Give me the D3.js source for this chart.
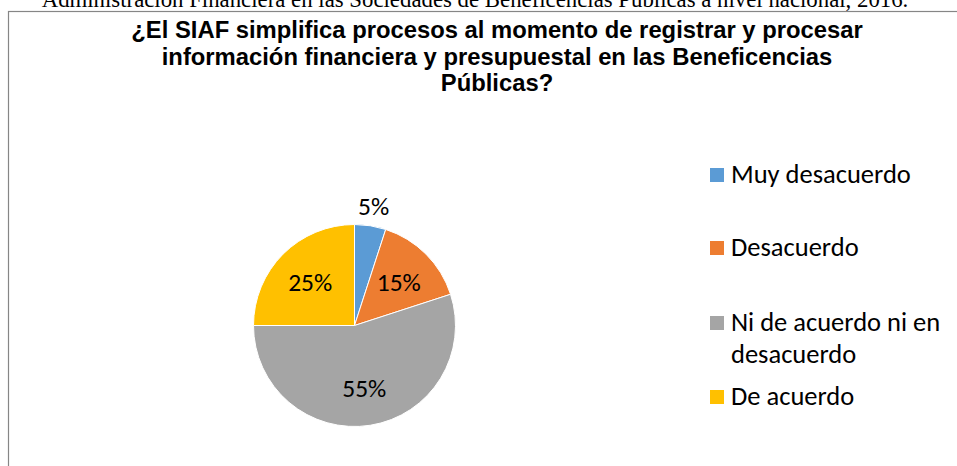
<!DOCTYPE html>
<html>
<head>
<meta charset="utf-8">
<script src="https://cdn.jsdelivr.net/npm/d3@7"></script>
<style>
  body { margin: 0; background: #fff; }
  svg { display: block; }
</style>
</head>
<body>
<svg id="chart" width="957" height="466"></svg>
<script>
'use strict';
// data
const categories = ["Muy desacuerdo", "Desacuerdo", "Ni de acuerdo ni en desacuerdo", "De acuerdo"];
const legendLines = [["Muy desacuerdo"], ["Desacuerdo"], ["Ni de acuerdo ni en", "desacuerdo"], ["De acuerdo"]];
const percents = [5, 15, 55, 25];
const colors = ["#5B9BD5", "#ED7D31", "#A5A5A5", "#FFC000"];
const titleLines = [
  "¿El SIAF simplifica procesos al momento de registrar y procesar",
  "información financiera y presupuestal en las Beneficencias",
  "Públicas?"
];
const captionText = "Administración Financiera en las Sociedades de Beneficencias Públicas a nivel nacional, 2016.";

const svg = d3.select("#chart");

// caption above the chart box, cut by the top of the picture
svg.append("text")
  .attr("x", 475)
  .attr("y", 7)
  .attr("text-anchor", "middle")
  .style("font-family", "'Liberation Serif', 'Times New Roman', serif")
  .style("font-size", "22.8px")
  .attr("fill", "#000")
  .text(captionText);

// chart box (only left and top edges show)
svg.append("rect")
  .attr("x", 8.5)
  .attr("y", 11.5)
  .attr("width", 1000)
  .attr("height", 500)
  .attr("fill", "none")
  .attr("stroke", "#868686")
  .attr("stroke-width", 1.2);

let title = svg.append("text")
  .attr("text-anchor", "middle")
  .style("font-family", "'Liberation Sans', Arial, sans-serif")
  .style("font-size", "23.8px")
  .style("font-weight", "bold")
  .attr("fill", "#000");
titleLines.forEach(function (line, i) {
  title.append("tspan")
    .attr("x", 497)
    .attr("y", 38 + i * 26.5)
    .text(line);
});

// pie
const cx = 354.5, cy = 325.5, radius = 101;
const pie = d3.pie().sort(null).value(d => d);
const arcs = pie(percents);
const arc = d3.arc().innerRadius(0).outerRadius(radius);
const labelArc = d3.arc().innerRadius(radius * 0.62).outerRadius(radius * 0.62);
const outerLabelArc = d3.arc().innerRadius(radius + 21).outerRadius(radius + 21);

let g = svg.append("g").attr("transform", "translate(" + cx + "," + cy + ")");
g.selectAll("path.slice")
  .data(arcs)
  .enter()
  .append("path")
  .attr("class", "slice")
  .attr("d", arc)
  .attr("fill", (d, i) => colors[i])
  .attr("stroke", "#fff")
  .attr("stroke-width", 1);

g.selectAll("text.pct")
  .data(arcs)
  .enter()
  .append("text")
  .attr("class", "pct")
  .attr("transform", function (d) {
    let c = d.data < 10 ? outerLabelArc.centroid(d) : labelArc.centroid(d);
    return "translate(" + c[0] + "," + c[1] + ")";
  })
  .attr("text-anchor", "middle")
  .attr("dy", "0.38em")
  .style("font-family", "Carlito, Lato, 'Open Sans', sans-serif")
  .style("font-size", "25.5px")
  .attr("fill", "#000")
  .text(d => d.data + "%");

// legend
const legendY = [175, 248, 323, 397];
let legend = svg.append("g");
legendLines.forEach(function (lines, i) {
  legend.append("rect")
    .attr("x", 710)
    .attr("y", legendY[i] - 7)
    .attr("width", 14)
    .attr("height", 14)
    .attr("fill", colors[i]);
  let t = legend.append("text")
    .style("font-family", "Carlito, Lato, 'Open Sans', sans-serif")
    .style("font-size", "26.5px")
    .attr("fill", "#000");
  lines.forEach(function (line, j) {
    t.append("tspan")
      .attr("x", 731)
      .attr("y", legendY[i] + 8 + j * 32)
      .text(line);
  });
});
</script>
</body>
</html>
